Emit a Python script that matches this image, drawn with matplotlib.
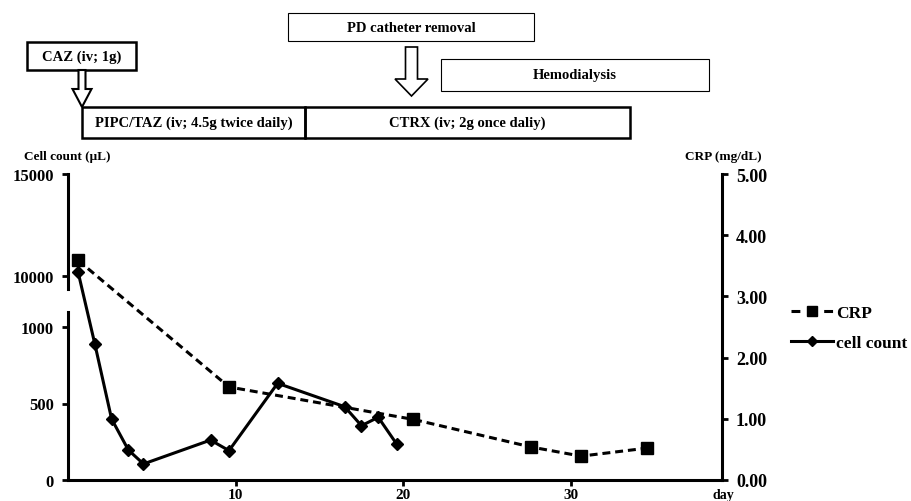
import numpy as np
import matplotlib
matplotlib.use("Agg")
from matplotlib import pyplot as plt
from matplotlib.patches import Rectangle, FancyArrow
from matplotlib.lines import Line2D
from matplotlib.ticker import FixedLocator, FormatStrFormatter

plt.rcParams["font.family"] = ["Liberation Serif", "DejaVu Serif"]
plt.rcParams["font.weight"] = "bold"

# cell count (per uL), days as they sit on the axis
cell_days = [0.6, 1.6, 2.6, 3.6, 4.5, 8.5, 9.6, 12.5, 16.5, 17.5, 18.5, 19.6]
cell_count = [10200, 889, 399, 196, 105, 261, 192, 632, 479, 355, 410, 235]

# CRP (mg/dL)
crp_days = [0.6, 9.6, 20.6, 27.6, 30.6, 34.5]
crp = [3.59, 1.52, 0.99, 0.54, 0.39, 0.52]

left_ticks = [0, 500, 1000, 10000, 15000]
right_ticks = [0, 1, 2, 3, 4, 5]
day_ticks = [10, 20, 30]

# broken left axis: 0-1000 linear, 1000-10000 squeezed, 10000-15000 linear
knots_val = [0, 1000, 10000, 15000]
knots_pos = [0, 153, 204, 306]


def fwd(v):
    return np.interp(v, knots_val, knots_pos)


def inv(p):
    return np.interp(p, knots_pos, knots_val)


fig = plt.figure(figsize=(9.11, 5.02), dpi=100)
W, H = 911, 502
ax = fig.add_axes([68 / W, 1 - 481 / H, (722 - 68) / W, (481 - 175) / H])
ax.set_yscale("function", functions=(fwd, inv))
ax.set_xlim(0, 39)
ax.set_ylim(0, 15000)

cell_line, = ax.plot(cell_days, cell_count, color="black", lw=2.2, marker="D",
                     ms=6, label="cell count", zorder=3)

ax2 = ax.twinx()
ax2.set_ylim(0, 5)
crp_line, = ax2.plot(crp_days, crp, color="black", lw=2.2, marker="s", ms=8,
                     label="CRP", zorder=3)
crp_line.set_dashes([2.6, 1.6])

for a in (ax, ax2):
    a.spines["top"].set_visible(False)
    for s in a.spines.values():
        s.set_linewidth(2.2)
ax.spines["right"].set_visible(False)
ax2.spines["left"].set_visible(False)
ax2.spines["bottom"].set_visible(False)

# left spine with a gap
ax.spines["left"].set_visible(False)
ax.axvline(0, ymin=0, ymax=168 / 306, color="black", lw=2.2, clip_on=False)
ax.axvline(0, ymin=191 / 306, ymax=1, color="black", lw=2.2, clip_on=False)

ax.yaxis.set_major_locator(FixedLocator(left_ticks))
ax.yaxis.set_minor_locator(FixedLocator([]))
ax.set_yticklabels([str(t) for t in left_ticks])
ax.xaxis.set_major_locator(FixedLocator(day_ticks))
ax2.yaxis.set_major_locator(FixedLocator(right_ticks))
ax2.yaxis.set_major_formatter(FormatStrFormatter("%.2f"))

ax.tick_params(axis="y", length=4, width=2, labelsize=12, pad=6)
ax.tick_params(axis="x", length=4, width=2, labelsize=11, pad=2)
ax2.tick_params(axis="y", length=4, width=2, labelsize=13, pad=6)

fig.text(67 / W, 1 - 157 / H, "Cell count (μL)", ha="center", va="center",
         fontsize=9.5)
fig.text(723 / W, 1 - 157 / H, "CRP (mg/dL)", ha="center", va="center",
         fontsize=9.5)
fig.text(723 / W, 1 - 496 / H, "day", ha="center", va="center", fontsize=10)

# legend proxy so the CRP handle reads "- square -"
crp_handle = Line2D([], [], color="black", lw=2.2, marker="s", ms=6.8,
                    dashes=[2.9, 7.8])
cell_handle = Line2D([], [], color="black", lw=2.2, marker="D", ms=5.1)
fig.legend([crp_handle, cell_handle], ["CRP", "cell count"], loc="upper left",
           bbox_to_anchor=(791 / W, 1 - 306 / H), frameon=False,
           fontsize=12.5, handlelength=2.4, handletextpad=0.2,
           labelspacing=0.8, borderpad=0, borderaxespad=0)

# treatment timeline drawn in figure pixels
top = fig.add_axes([0, 0, 1, 1], zorder=-1)
top.set_xlim(0, W)
top.set_ylim(H, 0)
top.axis("off")

boxes = [
    (27, 43, 109, 28, "CAZ (iv; 1g)", 1.8),
    (82, 108, 223, 31, "PIPC/TAZ (iv; 4.5g twice daily)", 1.8),
    (305, 108, 325, 31, "CTRX (iv; 2g once daliy)", 1.8),
    (288, 14, 246, 28, "PD catheter removal", 0.8),
    (441, 60, 268, 32, "Hemodialysis", 0.8),
]
for x, y, w, h, txt, lw in boxes:
    top.add_patch(Rectangle((x, y), w, h, fill=False, ec="black", lw=lw))
    top.text(x + w / 2, y + h / 2, txt, ha="center", va="center", fontsize=10.5)

top.add_patch(FancyArrow(82, 71, 0, 37, width=7, head_width=19, head_length=18,
                         length_includes_head=True, fc="white", ec="black",
                         lw=1.5))
top.add_patch(FancyArrow(411.5, 48, 0, 49, width=12, head_width=33,
                         head_length=17, length_includes_head=True, fc="white",
                         ec="black", lw=1.2))

fig.savefig("out.png", dpi=100)
